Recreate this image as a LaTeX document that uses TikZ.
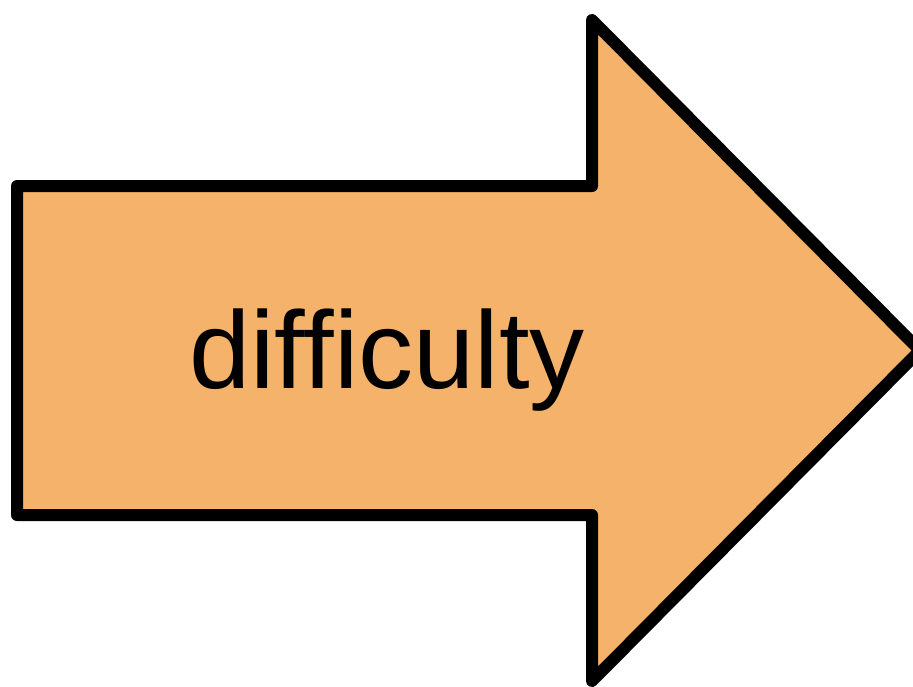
\documentclass[tikz,border=0pt]{standalone}
\usepackage{fontspec}
\setmainfont{Liberation Sans}
\definecolor{arrowfill}{RGB}{245,178,107}
\tikzset{bigarrow/.style={draw=black,fill=arrowfill,line width=12pt,line join=round}}
\begin{document}
\begin{tikzpicture}[x=1pt,y=-1pt]
\useasboundingbox (0,0) rectangle (913,686);
\begin{scope}
\clip (0,0) rectangle (913,686);
\draw[bigarrow] (17,186) -- (592,186) -- (592,20) -- (920,350.5) -- (592,681) -- (592,515) -- (17,515) -- cycle;
\end{scope}
\node[inner sep=0pt, anchor=base, font=\fontsize{110}{120}\selectfont] (label) at (387,388) {difficulty};
\end{tikzpicture}
\end{document}
